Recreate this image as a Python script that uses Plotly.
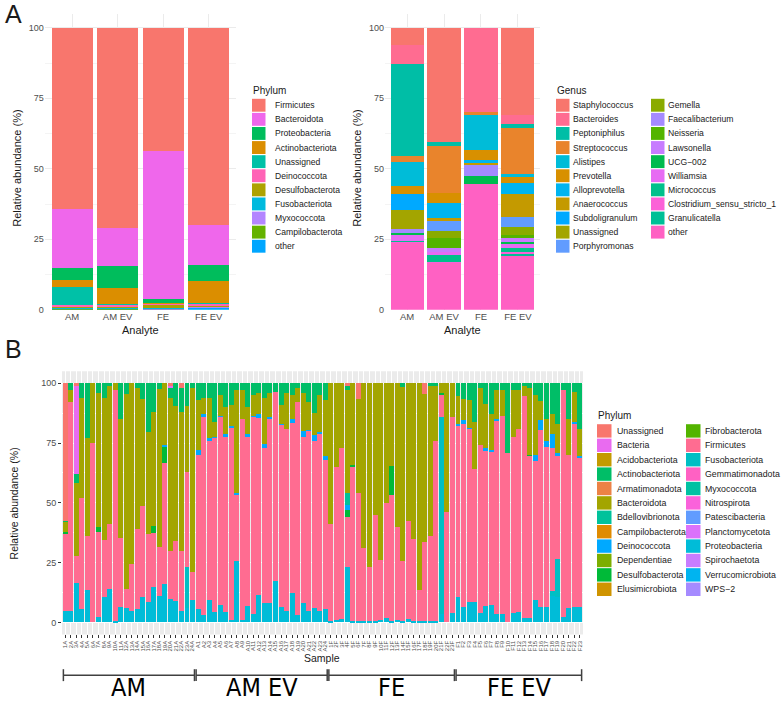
import plotly.graph_objects as go

# =========================================
# Panel A (left) - phylum by analyte
# =========================================
analytes = ["AM", "AM EV", "FE", "FE EV"]

phyla_a = ["Firmicutes", "Bacteroidota", "Proteobacteria", "Actinobacteriota", "Unassigned",
           "Deinococcota", "Desulfobacterota", "Fusobacteriota", "Myxococcota",
           "Campilobacterota", "other"]
a_firmicutes = [64.5, 71.1, 43.8, 70.1]
a_bacteroidota = [20.8, 13.3, 52.4, 14.1]
a_proteobacteria = [4.2, 7.8, 1.3, 5.5]
a_actinobacteriota = [2.5, 5.8, 0.2, 7.8]
a_unassigned = [6.5, 0.1, 0.1, 0.1]
a_deinococcota = [0.3, 1.0, 0.2, 1.0]
a_desulfobacterota = [0.4, 0.1, 1.5, 0.1]
a_fusobacteriota = [0.3, 0.3, 0.1, 0.2]
a_myxococcota = [0.2, 0.1, 0.1, 0.1]
a_campilobacterota = [0.1, 0.1, 0.1, 0.1]
a_other = [0.3, 0.3, 0.2, 0.9]

# =========================================
# Panel A (right) - genus by analyte
# =========================================
genera = ["Staphylococcus", "Bacteroides", "Peptoniphilus", "Streptococcus", "Alistipes",
          "Prevotella", "Alloprevotella", "Anaerococcus", "Subdoligranulum", "Unassigned",
          "Porphyromonas", "Gemella", "Faecalibacterium", "Neisseria", "Lawsonella",
          "UCG\u2212002", "Williamsia", "Micrococcus", "Clostridium_sensu_stricto_1",
          "Granulicatella", "other"]
g_staphylococcus = [6.0, 40.5, 0.0, 31.0]
g_bacteroides = [6.7, 0.0, 30.0, 3.0]
g_peptoniphilus = [32.8, 1.5, 0.0, 1.5]
g_streptococcus = [2.2, 16.5, 0.5, 16.5]
g_alistipes = [8.3, 0.0, 13.0, 0.5]
g_prevotella = [2.8, 3.5, 3.5, 2.5]
g_alloprevotella = [0.0, 5.5, 1.0, 4.0]
g_anaerococcus = [0.0, 1.0, 0.5, 8.0]
g_subdoligranulum = [5.7, 0.0, 0.0, 0.0]
g_unassigned = [6.8, 0.0, 0.0, 0.0]
g_porphyromonas = [0.0, 3.5, 0.0, 3.5]
g_gemella = [0.0, 2.5, 0.0, 3.0]
g_faecalibacterium = [1.4, 0.0, 4.0, 0.0]
g_neisseria = [0.0, 3.5, 0.0, 1.0]
g_lawsonella = [0.0, 1.5, 0.0, 1.5]
g_ucg002 = [0.4, 0.0, 3.0, 0.5]
g_williamsia = [2.5, 1.0, 0.0, 1.5]
g_micrococcus = [0.1, 2.5, 0.0, 1.5]
g_clostridium = [0.2, 0.3, 0.0, 0.3]
g_granulicatella = [0.1, 0.0, 0.0, 1.0]
g_other = [24.0, 16.7, 44.5, 19.2]

# =========================================
# Panel B - phylum per sample
# =========================================
groups = ["AM", "AM EV", "FE", "FE EV"]
samples_am = [f"{i}A" for i in range(1, 25)]
samples_amev = [f"A{i}" for i in range(1, 25)]
samples_fe = [f"{i}F" for i in range(1, 24)]
samples_feev = [f"F{i}" for i in range(1, 24)]
samples = samples_am + samples_amev + samples_fe + samples_feev

phyla_b = ["Unassigned", "Bacteria", "Acidobacteriota", "Actinobacteriota", "Armatimonadota",
           "Bacteroidota", "Bdellovibrionota", "Campilobacterota", "Deinococcota",
           "Dependentiae", "Desulfobacterota", "Elusimicrobiota", "Fibrobacterota",
           "Firmicutes", "Fusobacteriota", "Gemmatimonadota", "Myxococcota", "Nitrospirota",
           "Patescibacteria", "Planctomycetota", "Proteobacteria", "Spirochaetota",
           "Verrucomicrobiota", "WPS\u22122"]

b_unassigned = [57.5, 0, 1, 0, 0, 0, 0, 0, 0, 0, 0, 0, 0, 0, 0, 0, 0, 0, 0, 1, 0, 2, 0, 0,
                0, 0, 0, 0, 0, 0, 0, 0, 0, 0, 0, 0, 0, 0, 0, 0, 0, 0, 0, 0, 0, 0, 0, 0,
                0, 0, 0, 1, 0, 6.5, 0, 0, 0, 0, 0, 0, 0, 0, 0, 0, 0, 4.5, 0, 0, 0, 0, 0,
                0, 0, 0, 0, 0, 0, 0, 0, 0, 0, 0, 0, 0, 0, 0, 0, 0, 0, 0, 0, 0, 0, 0]
b_bacteria = [0, 0, 37, 0, 0, 0, 0, 0, 0, 0, 0, 0, 0, 0, 0, 0, 0, 0, 0, 1, 0, 0, 0, 0,
              0, 0, 0, 0, 0, 0, 0, 0, 0, 0, 0, 0, 0, 0, 0, 0, 0, 0, 0, 0, 0, 0, 0, 0,
              0, 0, 0, 0, 0, 0, 0, 0, 0, 0, 0, 0, 0, 0, 0, 0, 0, 0, 0, 0, 0, 0, 0,
              0, 0, 0, 0, 0, 0, 0, 0, 0, 0, 0, 0, 0, 0, 0, 0, 0, 0, 0, 0, 0, 0, 0]
b_actinobacteriota = [0.5, 3, 3.5, 6, 23, 0, 4, 6, 1, 0, 15, 4.5, 0, 2, 6.5, 20.5, 12, 2.5, 0, 4, 9.5, 10, 9.5, 2,
                      7, 6, 6, 16, 5, 10, 9, 3, 3, 10, 5, 4, 6, 4, 3.5, 9, 4, 5, 2, 4, 8, 12.5, 5, 7,
                      0, 0, 0, 2, 0, 0, 0, 0, 0, 0, 0, 0, 0, 1.5, 0, 0, 0, 0, 1, 1, 0, 0, 0,
                      5.5, 6.5, 7, 16, 2, 8.5, 13, 3, 3, 29, 3, 3, 1, 2, 5, 7.5, 15, 13, 17, 3, 15, 3.5, 19]
b_bacteroidota = [4, 5, 30.5, 42, 41, 25, 56, 59.5, 58, 3, 49.5, 81.5, 75.5, 59, 45, 42.5, 47.5, 66, 26, 64, 56.5, 58, 27.5, 77,
                  21, 7, 17, 6.5, 8.5, 11, 9, 43, 12, 11, 8.5, 9, 19.5, 10, 0, 8, 15, 10, 6, 16, 11.5, 9, 15.5, 23.5,
                  59, 35, 27, 43, 34, 39.5, 69, 77, 55, 74, 50, 34.5, 60, 73, 57.5, 65, 86.5, 62, 63, 23, 4, 54, 14,
                  11.5, 9, 11.5, 20, 24, 18.5, 15, 12, 10.5, 0, 19.5, 16, 4.5, 28, 25, 8, 9, 8, 12, 0, 15, 12.5, 11.5]
b_bdellovibrionota = [0, 0, 0, 0, 0, 0, 0, 0, 0, 0, 0, 0, 0, 0, 0, 0, 0, 0, 0, 0, 0, 0, 0, 0,
                      0, 0, 0, 0, 0, 0, 0, 0, 0, 0, 0, 0, 0, 0, 0, 0, 0, 0, 0, 0, 0, 0, 0, 0,
                      0, 0, 0, 5, 0, 0, 0, 0, 0, 0, 0, 0, 0, 0, 0, 0, 0, 0, 0, 0, 0, 0, 0,
                      0, 0, 0, 0, 0, 0, 0, 0, 0, 0, 0, 0, 0, 0, 0, 0, 0, 0, 0, 0, 0, 0, 0]
b_deinococcota = [0, 0, 0, 0, 0, 0, 0, 0, 0, 0, 0, 0, 0, 0, 0, 0, 0, 0, 0.5, 0, 0, 0, 0, 0,
                  2, 1, 1, 0.5, 0.5, 1.5, 0.5, 0.5, 0, 1.5, 0.5, 1.5, 1.5, 1, 0, 0.5, 0, 1.5, 0, 2.5, 0.5, 2.5, 0.5, 1.5,
                  0, 0, 0, 2, 0, 0, 0, 0, 0, 0, 0, 0, 0, 0, 0, 0, 0, 0, 0, 0, 0, 0, 0,
                  1, 1.5, 0.5, 0, 0, 1.5, 0.5, 0.5, 0, 0, 0, 0, 0, 0, 2.5, 4, 2.5, 6, 1.5, 0, 0, 1, 0.5]
b_desulfobacterota = [1, 0, 0, 0, 0, 0, 2, 0, 0, 0, 0, 0, 0, 0, 0, 0, 3, 0, 7, 0, 0, 0, 0, 0,
                      0, 0, 0, 0, 0, 0, 0, 0, 0, 0, 0, 0, 0, 0, 0, 0, 0, 0, 0, 0, 0, 0, 0, 0,
                      0, 0, 0, 3, 1, 0, 0, 0, 0, 0, 0, 12, 0, 0, 0, 0, 0, 0, 0, 0, 1, 0, 0,
                      0, 0, 0, 0, 0, 0, 0, 0, 0, 0, 0, 0, 0, 0.5, 0, 0, 0, 0, 0, 0, 0, 0, 0]
b_firmicutes = [32, 87, 11.5, 46.5, 22.5, 75, 35.5, 24, 27, 96.5, 29, 8, 19.5, 33.5, 38, 28.5, 22.5, 20.5, 50.5, 20, 25, 25, 40, 11.5,
                64.5, 83, 66.5, 72.5, 78.5, 73, 80.5, 28, 84, 70.5, 82.5, 74, 65, 77, 79, 76, 76, 71, 89, 69.5, 75, 70, 74, 62.5,
                40.5, 64, 71.5, 21, 64.5, 53.5, 30.5, 22.5, 44.5, 25, 48, 53, 39, 25, 41, 34.5, 13, 33, 35.5, 75.5, 9, 46, 82,
                71.5, 76.5, 72.5, 55.5, 70, 64.5, 64, 81, 83, 71, 73.5, 76.5, 92.5, 67.5, 58, 74, 67, 60, 43, 94.5, 64, 76.5, 62.5]
b_fusobacteriota = [0, 0, 0, 0, 0, 0, 0, 0, 0, 0, 0, 0, 0, 0, 0, 0, 0, 0, 0, 0, 0, 0, 17, 0,
                    0, 0, 0, 0, 0, 0, 0, 0, 0, 0, 0, 0, 0, 0, 0, 0, 0, 0, 0, 0, 0, 0, 0, 0,
                    0, 0, 0, 0, 0, 0, 0, 0, 0, 0, 0, 0, 0, 0, 0, 0, 0, 0, 0, 0, 82.5, 0, 0,
                    0, 0, 0, 0, 0, 0, 0, 0, 0, 0, 0, 0, 0, 0, 0, 0, 0, 2, 16, 0, 0, 0, 0]
b_proteobacteria = [5, 5, 16.5, 5.5, 13.5, 0, 2.5, 10.5, 14, 0.5, 6.5, 6, 5, 5.5, 10.5, 8.5, 15, 11, 16, 10, 9, 5, 6, 9.5,
                    5.5, 3, 9.5, 4.5, 7.5, 4.5, 1, 25.5, 1, 7, 3.5, 11.5, 8, 8, 17.5, 6.5, 5, 12.5, 3, 8, 5, 6, 5, 5.5,
                    0.5, 1, 1.5, 23, 0.5, 0.5, 0.5, 0.5, 0.5, 1, 2, 0.5, 1, 0.5, 1.5, 0.5, 0.5, 0.5, 0.5, 0.5, 3.5, 0, 4,
                    10.5, 6.5, 8.5, 8.5, 4, 7, 7.5, 3.5, 3.5, 0, 4, 4.5, 2, 2, 9.5, 6.5, 6.5, 11, 10.5, 2.5, 6, 6.5, 6.5]

# ---- colours (ggplot hue palettes, as used in the figure)
colors_a = ["#F8766D", "#EF67EB", "#00BD5C", "#DB8E00", "#00C1A7", "#FF63B6",
            "#AEA200", "#00BADE", "#B385FF", "#64B200", "#00A6FF"]
colors_g = ["#F8766D", "#FF6C91", "#00BEA6", "#E9842C", "#00BCD8", "#D89000", "#00B4EF",
            "#C49A00", "#00A9FF", "#A3A500", "#619CFF", "#8AAB00", "#A58AFF", "#53B400",
            "#C77CFF", "#00BB4E", "#E76BF3", "#00C08B", "#FB61D7", "#00BF96", "#FF61C3"]
colors_b = ["#F8766D", "#E96BF0", "#C49A00", "#00BE67", "#EC8246", "#A3A500", "#00C29B",
            "#E08B00", "#00A9FF", "#7CAE00", "#00BA38", "#CF9400", "#53B400", "#FF6C91",
            "#00BFC4", "#FF61C3", "#00C1A3", "#FA62DB", "#619CFF", "#DB72FB", "#00BCD8",
            "#C77CFF", "#00B4F0", "#A58AFF"]

W, H = 784, 703
FONT = "Liberation Sans, Arial, Helvetica, sans-serif"


def px(x):
    return x / W


def py(y):
    return 1 - y / H


fig = go.Figure()

# ---- panel A left bars (first trace sits at the bottom of the stack)
a_series = [a_firmicutes, a_bacteroidota, a_proteobacteria, a_actinobacteriota, a_unassigned,
            a_deinococcota, a_desulfobacterota, a_fusobacteriota, a_myxococcota,
            a_campilobacterota, a_other]
for name, vals, col in reversed(list(zip(phyla_a, a_series, colors_a))):
    fig.add_trace(go.Bar(x=analytes, y=vals, name=name, marker_color=col,
                         marker_line_width=0, xaxis="x", yaxis="y", showlegend=False))

# ---- panel A right bars
g_series = [g_staphylococcus, g_bacteroides, g_peptoniphilus, g_streptococcus, g_alistipes,
            g_prevotella, g_alloprevotella, g_anaerococcus, g_subdoligranulum, g_unassigned,
            g_porphyromonas, g_gemella, g_faecalibacterium, g_neisseria, g_lawsonella,
            g_ucg002, g_williamsia, g_micrococcus, g_clostridium, g_granulicatella, g_other]
for name, vals, col in reversed(list(zip(genera, g_series, colors_g))):
    fig.add_trace(go.Bar(x=analytes, y=vals, name=name, marker_color=col,
                         marker_line_width=0, xaxis="x2", yaxis="y2", showlegend=False))

# ---- panel B bars
b_series = {
    "Unassigned": b_unassigned, "Bacteria": b_bacteria, "Actinobacteriota": b_actinobacteriota,
    "Bacteroidota": b_bacteroidota, "Bdellovibrionota": b_bdellovibrionota,
    "Deinococcota": b_deinococcota, "Desulfobacterota": b_desulfobacterota,
    "Firmicutes": b_firmicutes, "Fusobacteriota": b_fusobacteriota,
    "Proteobacteria": b_proteobacteria,
}
for name, col in reversed(list(zip(phyla_b, colors_b))):
    if name in b_series:
        fig.add_trace(go.Bar(x=samples, y=b_series[name], name=name, marker_color=col,
                             marker_line_width=0, xaxis="x3", yaxis="y3", showlegend=False))

# ---- axes
tick_font = dict(family=FONT, size=9, color="#4D4D4D")
a_y = dict(range=[0, 105], tickvals=[0, 25, 50, 75, 100], showgrid=True, gridcolor="#EBEBEB",
           gridwidth=1, zeroline=False, ticks="", tickfont=tick_font, fixedrange=True,
           minor=dict(tickvals=[12.5, 37.5, 62.5, 87.5], showgrid=True, gridcolor="#F4F4F4",
                      gridwidth=0.6))
a_x = dict(type="category", range=[-0.6, 3.6], showgrid=True, gridcolor="#EBEBEB", gridwidth=1,
           zeroline=False, ticks="", tickfont=dict(family=FONT, size=9.5, color="#4D4D4D"))

fig.update_layout(
    width=W, height=H, margin=dict(l=0, r=0, t=0, b=0),
    paper_bgcolor="white", plot_bgcolor="white",
    barmode="stack", bargap=0.1, showlegend=False,
    font=dict(family=FONT, color="#1A1A1A"),
    xaxis=dict(a_x, domain=[px(44.7), px(236)], anchor="y"),
    yaxis=dict(a_y, domain=[py(312), py(13.8)], anchor="x"),
    xaxis2=dict(a_x, domain=[px(385), px(540)], anchor="y2"),
    yaxis2=dict(a_y, domain=[py(312), py(13.8)], anchor="x2"),
    xaxis3=dict(type="category", range=[-0.6, len(samples) - 0.4], domain=[px(62), px(583)],
                anchor="y3", showgrid=True, gridcolor="white", gridwidth=0.6, zeroline=False,
                ticks="outside", ticklen=3, tickcolor="#333333", tickwidth=0.6,
                tickangle=-90, tickmode="array", tickvals=samples, ticktext=samples,
                tickfont=dict(family=FONT, size=6, color="#4D4D4D")),
    yaxis3=dict(range=[-5, 105], tickvals=[0, 25, 50, 75, 100], domain=[py(639), py(374)],
                anchor="x3", showgrid=True, gridcolor="white", gridwidth=1, zeroline=False,
                ticks="outside", ticklen=3, tickcolor="#333333", tickwidth=0.6,
                tickfont=tick_font,
                minor=dict(tickvals=[12.5, 37.5, 62.5, 87.5], showgrid=True,
                           gridcolor="white", gridwidth=0.5)),
)

# grey panel background for B
fig.add_shape(type="rect", xref="x3 domain", yref="y3 domain", x0=0, x1=1, y0=0, y1=1,
              fillcolor="#EBEBEB", line_width=0, layer="below")


def text(t, x, y, size, angle=0, color="#1A1A1A", anchor="center", family=FONT):
    fig.add_annotation(text=t, x=px(x), y=py(y), xref="paper", yref="paper",
                       xanchor=anchor, yanchor="middle", showarrow=False, textangle=angle,
                       font=dict(family=family, size=size, color=color))


# panel letters and axis titles
text("A", 13, 14, 25)
text("B", 13, 351, 25)
text("Relative abundance (%)", 17, 170, 11, angle=-90)
text("Relative abundance (%)", 357, 170, 11, angle=-90)
text("Analyte", 140, 332, 11)
text("Analyte", 462, 332, 11)
text("Relative abundance (%)", 14, 507, 10.5, angle=-90)
text("Sample", 322, 663, 10.5)


# legends drawn as keys + labels (ggplot-like spacing)
def legend(names, cols, x_key, x_txt, y0, dy, kw, kh, size):
    for i, (n, c) in enumerate(zip(names, cols)):
        yc = y0 + i * dy
        fig.add_shape(type="rect", xref="paper", yref="paper", x0=px(x_key), x1=px(x_key + kw),
                      y0=py(yc + kh / 2), y1=py(yc - kh / 2), fillcolor=c, line_width=0)
        text(n, x_txt, yc, size, anchor="left")


text("Phylum", 251, 91, 10, anchor="left")
legend(phyla_a, colors_a, 252, 273, 106, 14.2, 13.5, 13, 8.6)

text("Genus", 555, 91, 10, anchor="left")
legend(genera[:11], colors_g[:11], 556, 571, 106, 14.2, 13.5, 13, 8.6)
legend(genera[11:], colors_g[11:], 651, 666, 106, 14.2, 13.5, 13, 8.6)

text("Phylum", 596, 418, 10, anchor="left")
legend(phyla_b[:12], colors_b[:12], 597, 615, 434, 14.5, 14.5, 13.5, 8.8)
legend(phyla_b[12:], colors_b[12:], 686, 703, 434, 14.5, 14.5, 13.5, 8.8)

# group brackets under panel B
group_sizes = [len(samples_am), len(samples_amev), len(samples_fe), len(samples_feev)]
start = 0
for g, n in zip(groups, group_sizes):
    x0, x1 = start - 0.5 + 0.15, start + n - 0.5 - 0.15
    line = dict(color="#404040", width=1.5)
    fig.add_shape(type="line", xref="x3", yref="paper", x0=x0, x1=x1, y0=py(680), y1=py(680), line=line)
    fig.add_shape(type="line", xref="x3", yref="paper", x0=x0, x1=x0, y0=py(674), y1=py(686), line=line)
    fig.add_shape(type="line", xref="x3", yref="paper", x0=x1, x1=x1, y0=py(674), y1=py(686), line=line)
    fig.add_annotation(text=g, x=(x0 + x1) / 2, y=py(692), xref="x3", yref="paper",
                       showarrow=False, yanchor="middle",
                       font=dict(family="Liberation Sans Narrow, DejaVu Sans Condensed, Arial Narrow, sans-serif",
                                 size=25, color="#000000"))
    start += n

# the page body has a default 8px margin; drop it so the figure fills the window
fig.write_html("out.html", config={"displayModeBar": False},
               post_script="document.body.style.margin='0';")
